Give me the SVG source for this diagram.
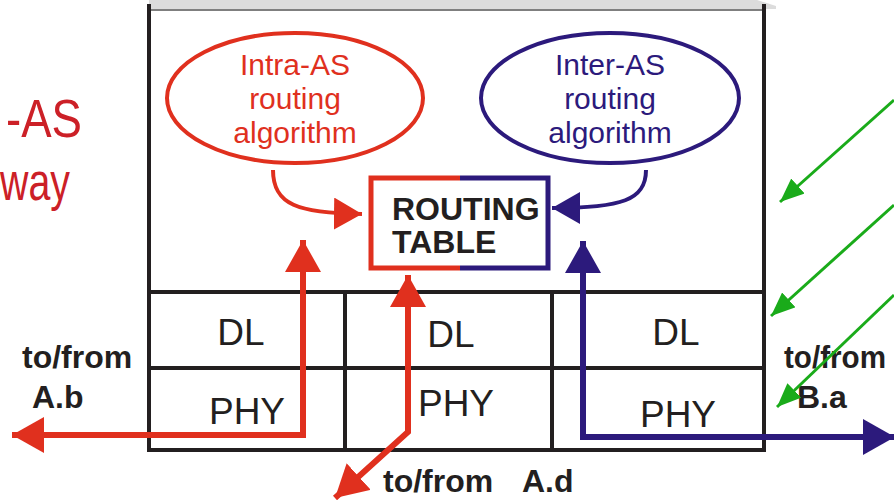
<svg xmlns="http://www.w3.org/2000/svg" width="894" height="500" viewBox="0 0 894 500">
<style>
  .grid{stroke:#231f20;stroke-width:4;fill:none;stroke-linecap:square}
  .lbl{font-family:"Liberation Sans",Arial,sans-serif;font-size:37px;fill:#231f20;text-anchor:middle}
  .bold{font-family:"Liberation Sans",Arial,sans-serif;font-size:32px;font-weight:bold;fill:#231f20}
  .ell{font-family:"Liberation Sans",Arial,sans-serif;font-size:30px;text-anchor:middle}
  .side{font-family:"Liberation Sans",Arial,sans-serif;font-size:54px;fill:#cc2027}
  .red{stroke:#e0301e;fill:none}
  .blue{stroke:#2c1a7c;fill:none}
  .green{stroke:#1aab1a;stroke-width:3;fill:none}
</style>
<defs>
  <marker id="rh" markerUnits="userSpaceOnUse" markerWidth="34" markerHeight="36" refX="32" refY="18" orient="auto-start-reverse" viewBox="0 0 34 36">
    <path d="M0,0 L32,18 L0,36 z" fill="#e0301e"/>
  </marker>
  <marker id="rhs" markerUnits="userSpaceOnUse" markerWidth="30" markerHeight="32" refX="28" refY="16" orient="auto" viewBox="0 0 30 32">
    <path d="M0,0 L28,16 L0,32 z" fill="#e0301e"/>
  </marker>
  <marker id="bh" markerUnits="userSpaceOnUse" markerWidth="34" markerHeight="36" refX="32" refY="18" orient="auto-start-reverse" viewBox="0 0 34 36">
    <path d="M0,0 L32,18 L0,36 z" fill="#2c1a7c"/>
  </marker>
  <marker id="bhs" markerUnits="userSpaceOnUse" markerWidth="30" markerHeight="32" refX="28" refY="16" orient="auto" viewBox="0 0 30 32">
    <path d="M0,0 L28,16 L0,32 z" fill="#2c1a7c"/>
  </marker>
  <marker id="gh" markerUnits="userSpaceOnUse" markerWidth="26" markerHeight="20" refX="24" refY="10" orient="auto" viewBox="0 0 26 20">
    <path d="M0,0 L24,10 L0,20 z" fill="#1aab1a"/>
  </marker>
</defs>

<g id="side-title">
  <text class="side" x="6" y="137" textLength="76" lengthAdjust="spacingAndGlyphs">-AS</text>
  <text class="side" x="0" y="200" textLength="70" lengthAdjust="spacingAndGlyphs">way</text>
</g>

<g id="router-box">
  <path d="M149,0 L757,0 L776,6 L776,9 L149,9 z" fill="#dcdcdc"/>
  <line x1="149" y1="10" x2="764" y2="10" stroke="#555" stroke-width="1.5"/>
  <path class="grid" d="M149,6 L149,450 L764,450 L764,6"/>
  <line class="grid" x1="149" y1="292" x2="764" y2="292"/>
  <line class="grid" x1="149" y1="368" x2="764" y2="368"/>
  <line class="grid" x1="345" y1="292" x2="345" y2="450"/>
  <line class="grid" x1="552" y1="292" x2="552" y2="450"/>
</g>

<g id="cell-left">
  <text class="lbl" x="241" y="345">DL</text>
  <text class="lbl" x="247" y="424">PHY</text>
</g>
<g id="cell-mid">
  <text class="lbl" x="451" y="347">DL</text>
  <text class="lbl" x="456" y="416">PHY</text>
</g>
<g id="cell-right">
  <text class="lbl" x="676" y="345">DL</text>
  <text class="lbl" x="678" y="427">PHY</text>
</g>

<g id="intra-as">
  <ellipse cx="295" cy="98" rx="128" ry="65" class="red" stroke-width="4"/>
  <text class="ell" fill="#e0301e" x="295" y="75">Intra-AS</text>
  <text class="ell" fill="#e0301e" x="295" y="109">routing</text>
  <text class="ell" fill="#e0301e" x="295" y="143">algorithm</text>
</g>

<g id="inter-as">
  <ellipse cx="610" cy="98" rx="129" ry="65" class="blue" stroke-width="4"/>
  <text class="ell" fill="#2c1a7c" x="610" y="75">Inter-AS</text>
  <text class="ell" fill="#2c1a7c" x="610" y="109">routing</text>
  <text class="ell" fill="#2c1a7c" x="610" y="143">algorithm</text>
</g>

<g id="routing-table">
  <path d="M460,178 L371,178 L371,268 L460,268" class="red" stroke-width="5"/>
  <path d="M460,178 L548,178 L548,268 L460,268" class="blue" stroke-width="5"/>
  <text class="bold" x="392" y="220" font-size="29">ROUTING</text>
  <text class="bold" x="392" y="253" font-size="29">TABLE</text>
</g>

<g id="labels">
  <text class="bold" x="22" y="368">to/from</text>
  <text class="bold" x="32" y="408">A.b</text>
  <text class="bold" x="784" y="368" textLength="102" lengthAdjust="spacingAndGlyphs">to/from</text>
  <text class="bold" x="797" y="408">B.a</text>
  <text class="bold" x="383" y="492">to/from</text>
  <text class="bold" x="522" y="492">A.d</text>
</g>

<g id="connectors">
  <path d="M273,170 C273,205 298,213 362,214" class="red" stroke-width="4" marker-end="url(#rhs)"/>
  <path d="M646,170 C646,200 622,208 552,208" class="blue" stroke-width="4" marker-end="url(#bhs)"/>
  <polyline points="303,240 303,435 12,435" class="red" stroke-width="6" marker-start="url(#rh)" marker-end="url(#rh)"/>
  <polyline points="408,275 408,432 335,498" class="red" stroke-width="6" marker-start="url(#rh)" marker-end="url(#rh)"/>
  <polyline points="583,241 583,437 895,437" class="blue" stroke-width="6" marker-start="url(#bh)" marker-end="url(#bh)"/>
  <line x1="894" y1="100" x2="780" y2="202" class="green" marker-end="url(#gh)"/>
  <line x1="894" y1="205" x2="771" y2="316" class="green" marker-end="url(#gh)"/>
  <line x1="894" y1="295" x2="777" y2="407" class="green" marker-end="url(#gh)"/>
</g>
</svg>
